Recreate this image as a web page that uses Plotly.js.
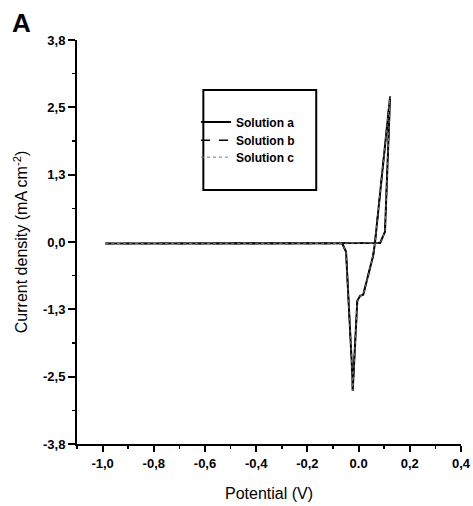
<!DOCTYPE html>
<html>
<head>
<meta charset="utf-8">
<script src="https://cdn.plot.ly/plotly-3.0.1.min.js"></script>
<style>html,body{margin:0;padding:0;background:#fff;}#chart{width:473px;height:506px;}</style>
</head>
<body>
<div id="chart"></div>
<script>
// Potential (V) and current density (mA cm^-2) (one closed loop)
const potentialA = [-0.99, -0.8, -0.6, -0.4, -0.2, -0.064, 0.02, 0.084, 0.103, 0.123, 0.064, 0.057, 0.018, 0.006, -0.005, -0.021, -0.023, -0.025, -0.049, -0.064, -0.2, -0.4, -0.6, -0.8, -0.99];
const currentA   = [-0.03, -0.03, -0.03, -0.03, -0.03, -0.03, -0.02, -0.02, 0.19, 2.70, -0.01, -0.25, -0.98, -1.00, -1.09, -2.48, -2.76, -2.41, -0.18, -0.03, -0.03, -0.03, -0.03, -0.03, -0.03];
// Solutions b and c overlap solution a in the picture
const potentialB = potentialA.slice();
const currentB   = currentA.slice();
const potentialC = potentialA.slice();
const currentC   = currentA.slice();
const seriesNames = ["Solution a", "Solution b", "Solution c"];

const yTickVals = [3.75, 2.5, 1.25, 0, -1.25, -2.5, -3.75];
const yTickText = ["3,8", "2,5", "1,3", "0,0", "-1,3", "-2,5", "-3,8"];
const xTickVals = [-1.0, -0.8, -0.6, -0.4, -0.2, 0.0, 0.2, 0.4];
const xTickText = ["-1,0", "-0,8", "-0,6", "-0,4", "-0,2", "0.0", "0,2", "0,4"];

const font = "Liberation Sans, Arial, sans-serif";
const legFont = {family: font, size: 12, color: "#000", weight: "bold"};

const traces = [
  {x: potentialA, y: currentA, name: seriesNames[0], legend: "legend", mode: "lines", line: {color: "#000", width: 2, dash: "solid"}},
  {x: potentialB, y: currentB, name: seriesNames[1], legend: "legend2", mode: "lines", line: {color: "#000", width: 1.5, dash: "dash"}},
  {x: potentialC, y: currentC, name: seriesNames[2], legend: "legend3", mode: "lines", line: {color: "#777", width: 1, dash: "dot"}}
];

function leg(yc) {
  return {x: 0.31, y: yc, xanchor: "left", yanchor: "middle", bgcolor: "rgba(0,0,0,0)", borderwidth: 0, font: legFont};
}

const layout = {
  width: 473, height: 506,
  margin: {l: 77, r: 12, t: 40, b: 62},
  paper_bgcolor: "#fff", plot_bgcolor: "#fff",
  font: {family: font, color: "#000", size: 12},
  showlegend: true,
  legend: leg(0.797),
  legend2: leg(0.752),
  legend3: leg(0.710),
  xaxis: {
    range: [-1.1, 0.4], showgrid: false, zeroline: false, showline: true, linecolor: "#000", linewidth: 2,
    tickmode: "array", tickvals: xTickVals, ticktext: xTickText,
    ticks: "outside", ticklen: 6, tickwidth: 2, tickcolor: "#000",
    tickfont: {family: font, size: 13, color: "#000", weight: "bold"},
    minor: {tickmode: "linear", tick0: 0, dtick: 0.1, ticks: "outside", ticklen: 3, tickwidth: 1.5, tickcolor: "#000", showgrid: false},
    title: {text: "Potential (V)", font: {family: font, size: 16, color: "#000"}, standoff: 18}
  },
  yaxis: {
    range: [-3.75, 3.75], showgrid: false, zeroline: false, showline: true, linecolor: "#000", linewidth: 2,
    tickmode: "array", tickvals: yTickVals, ticktext: yTickText,
    ticks: "outside", ticklen: 7, tickwidth: 2, tickcolor: "#000",
    tickfont: {family: font, size: 13, color: "#000", weight: "bold"},
    minor: {tickmode: "linear", tick0: 0, dtick: 0.625, ticks: "outside", ticklen: 3, tickwidth: 1.5, tickcolor: "#000", showgrid: false},
    title: {text: "Current density (mA cm<sup>-2</sup>)", font: {family: font, size: 16, color: "#000"}, standoff: 11}
  },
  shapes: [
    {type: "rect", xref: "paper", yref: "paper", x0: 0.329, x1: 0.623, y0: 0.629, y1: 0.876,
     line: {color: "#000", width: 2}, fillcolor: "rgba(0,0,0,0)"}
  ],
  annotations: [
    {text: "<b>A</b>", xref: "paper", yref: "paper", x: -0.175, y: 1.043, xanchor: "left", yanchor: "middle",
     showarrow: false, font: {family: font, size: 26, color: "#000"}}
  ]
};

Plotly.newPlot("chart", traces, layout, {displayModeBar: false, staticPlot: true});
</script>
</body>
</html>
